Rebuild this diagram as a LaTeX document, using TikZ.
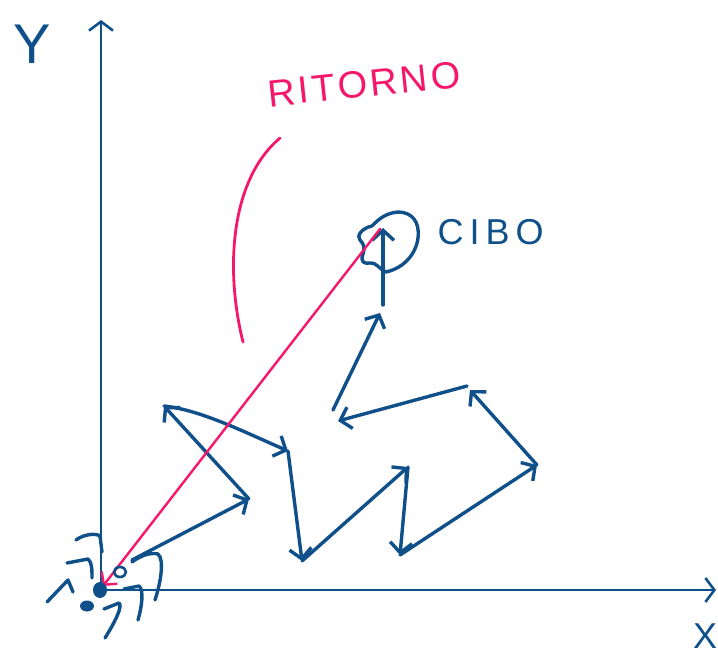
\documentclass[tikz,border=0pt]{standalone}
\usepackage{fontspec}
\setsansfont{Liberation Sans}
\usetikzlibrary{arrows.meta}
\definecolor{ink}{HTML}{0F4F8A}
\definecolor{rosso}{HTML}{F5176A}
\begin{document}
\begin{tikzpicture}[x=1pt,y=-1pt,
  stroke/.style={draw=ink,line width=3.4pt,line cap=round,line join=round},
  walk/.style={stroke,-{Straight Barb[length=10pt,width=22pt]}},
  axis/.style={draw=ink,line width=2.6pt,line cap=round,-{Straight Barb[length=9pt,width=24pt]}},
  hand/.style={text=ink,font=\sffamily},
  pinkline/.style={draw=rosso,line width=2.4pt,line cap=round}]
\useasboundingbox (0,0) rectangle (718,655);
% axes
\coordinate (O) at (101,590);
\coordinate (Ytop) at (101,20);
\coordinate (Xend) at (716,590);
\draw[axis] (O) -- (Ytop);
\draw[axis] (O) -- (Xend);
\node[hand,font=\sffamily\fontsize{56}{56}\selectfont] (ylab) at (32,44) {Y};
\node[hand,font=\sffamily\fontsize{36}{36}\selectfont] (xlab) at (705,636) {X};
% walk points
\coordinate (p0) at (132,560);
\coordinate (p1) at (249,499);
\coordinate (p2) at (164,406);
\coordinate (p3) at (288,451);
\coordinate (p4) at (302,561);
\coordinate (p5) at (408,467);
\coordinate (p6) at (400,555);
\coordinate (p7) at (537,465);
\coordinate (p8) at (470,390);
\coordinate (p8b) at (467,386);
\coordinate (p9) at (338,421);
\coordinate (p9b) at (333,410);
\coordinate (p10) at (380,313);
\coordinate (p10b) at (383,305);
\coordinate (p11) at (383,228);
\draw[walk] (p0) -- (p1);
\draw[walk] (p1) -- (p2);
\draw[walk] (p2) .. controls (200,410) and (240,430) .. (p3);
\draw[walk] (p3) -- (p4);
\draw[walk] (p4) -- (p5);
\draw[walk] (p5) -- (p6);
\draw[walk] (p6) -- (p7);
\draw[walk] (p7) -- (p8);
\draw[walk] (p8b) -- (p9);
\draw[walk] (p9b) -- (p10);
\draw[walk] (p10b) -- (p11);
% food blob
\draw[stroke] (372,226) .. controls (378,220) and (385,213) .. (398,212)
  .. controls (412,212) and (420,222) .. (418,238)
  .. controls (416,254) and (404,268) .. (386,272)
  .. controls (378,268) and (376,262) .. (370,263)
  .. controls (364,264) and (360,262) .. (363,254)
  .. controls (365,248) and (364,244) .. (360,240)
  .. controls (356,236) and (362,228) .. (372,226);
\node[hand,font=\sffamily\fontsize{36}{36}\selectfont,anchor=west] (cibo) at (434,232) {C\,I\,B\,O};
% return
\coordinate (food) at (380,229);
\coordinate (ant) at (103,586);
\draw[pinkline,-{Straight Barb[length=9pt,width=20pt]}] (food) -- (ant);
\coordinate (c1) at (280,138);
\coordinate (c2) at (243,342);
\draw[pinkline,line width=2.8pt] (c1) .. controls (230,180) and (225,270) .. (c2);
\node[text=rosso,font=\sffamily\fontsize{38}{38}\selectfont,rotate=6] (ritorno) at (364,84) {R\kern3pt I\kern3pt T\kern3pt O\kern3pt R\kern3pt N\kern3pt O};
% ant
\fill[ink] (100,590) ellipse (7pt and 8pt);
\draw[stroke,line width=2.6pt] (120,572) ellipse (6pt and 5pt);
\fill[ink] (87,606) ellipse (7pt and 5.5pt);
\draw[stroke] (76,540) .. controls (84,534) and (96,533) .. (100,536) -- (102,552);
\draw[stroke] (67,563) -- (88,559) .. controls (92,562) and (92,570) .. (92,578);
\draw[stroke] (47,602) -- (68,580) -- (73,592);
\draw[stroke] (104,609) -- (119,603) .. controls (123,606) and (115,622) .. (105,638);
\draw[stroke] (124,589) -- (139,586) .. controls (144,590) and (142,606) .. (138,620);
\draw[stroke] (132,562) .. controls (140,556) and (150,552) .. (158,554) .. controls (165,560) and (160,585) .. (155,600);
\end{tikzpicture}
\end{document}
